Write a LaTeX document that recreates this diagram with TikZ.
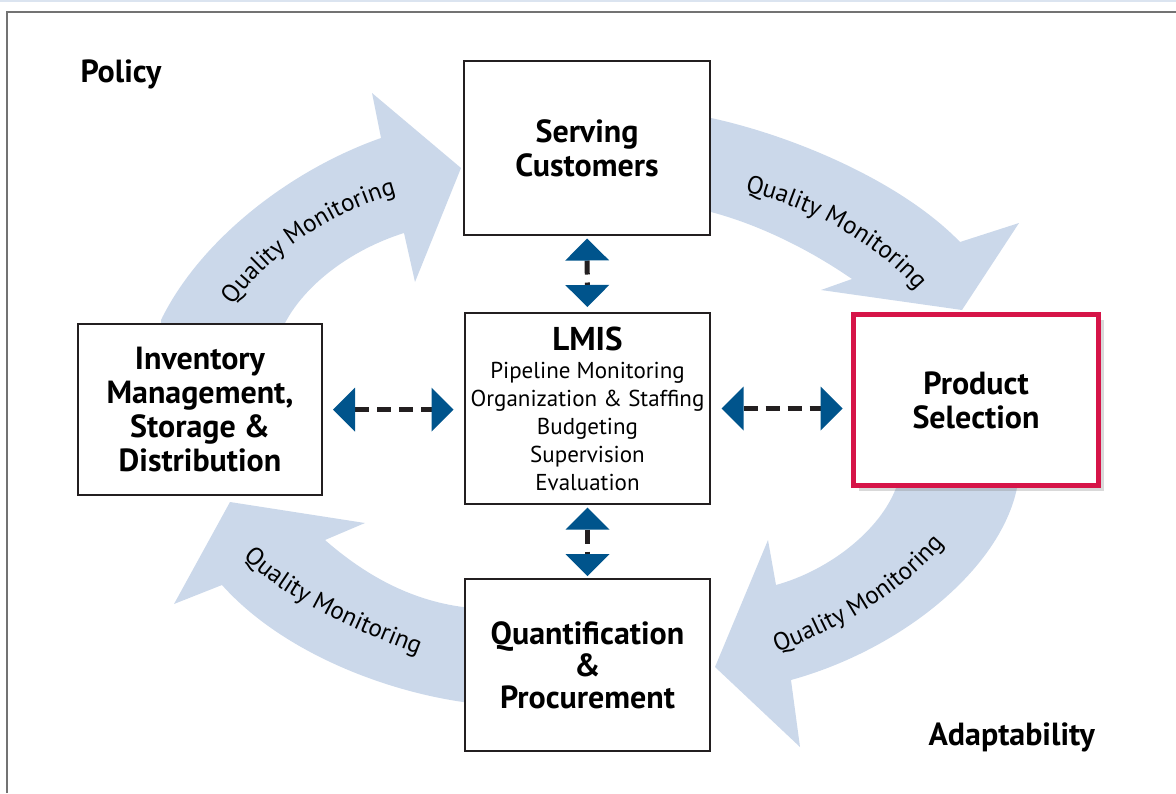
\documentclass[tikz,border=0pt]{standalone}
\usepackage{fontspec}
\setmainfont{PT Sans}
\usetikzlibrary{arrows.meta,shadows,decorations.text}
\definecolor{bandblue}{RGB}{203,216,234}
\definecolor{tipblue}{RGB}{0,84,140}
\definecolor{selred}{RGB}{214,20,72}
\definecolor{boxline}{RGB}{35,31,32}
\newcommand{\stagefont}{\bfseries\fontsize{32}{34}\selectfont}
\newcommand{\itemfont}{\fontsize{23}{28}\selectfont}
\newcommand{\qmfont}{\fontsize{25}{28}\selectfont}
\tikzstyle{stage} = [draw=boxline, line width=2pt, fill=white, align=center, font=\stagefont]
\tikzstyle{band} = [fill=bandblue, draw=none]
\tikzstyle{link} = [draw=boxline, line width=5pt, dash pattern=on 14pt off 8pt,
  {Triangle[length=22pt,width=44pt,line width=0pt,color=tipblue]}-{Triangle[length=22pt,width=44pt,line width=0pt,color=tipblue]}]
\tikzstyle{qm} = [decorate, decoration={text along path, text align=center, text={|\qmfont|Quality Monitoring}}]

\begin{document}
\begin{tikzpicture}[x=1pt,y=-1pt]
\useasboundingbox (0,0) rectangle (1176,793);
\fill[bandblue!70] (0,0) rectangle (1176,2);
\draw[black!55, line width=1.5pt] (7,793) -- (7,12) -- (1176,12);

\fill[band] (161,330) -- (161,320) .. controls (200,240) and (290,170) .. (381,138) -- (372,93) -- (461,168)
  -- (415,282) -- (404,233) .. controls (350,250) and (305,285) .. (285,323) -- (285,330) -- cycle;
\fill[band] (700,116) -- (711,118) .. controls (790,135) and (900,180) .. (960,242) -- (1019,223) -- (962,310)
  -- (821,290) -- (852,279) .. controls (810,250) and (760,225) .. (711,212) -- (700,210) -- cycle;
\fill[band] (1017,480) -- (1017,488) .. controls (1000,570) and (900,650) .. (791,680) -- (800,747) -- (715,667)
  -- (768,540) -- (776,585) .. controls (830,570) and (880,530) .. (896,488) -- (896,480) -- cycle;
\fill[band] (475,702) -- (463,702) .. controls (380,690) and (280,650) .. (222,585) -- (174,604) -- (230,502)
  -- (365,523) -- (325,540) .. controls (365,575) and (410,600) .. (463,607) -- (475,607) -- cycle;

\path[qm] (222,320) .. controls (264,257) and (332,207) .. (414,190);
\path[qm] (740,190) .. controls (800,205) and (870,235) .. (920,294);
\path[qm] (773,654) .. controls (830,632) and (895,602) .. (947,540);
\path[qm] (240,555) .. controls (280,595) and (340,625) .. (422,656);

\node[stage, minimum width=246pt, minimum height=174pt] (serve) at (587,148) {Serving\\Customers};
\node[stage, minimum width=245pt, minimum height=191pt, font=\itemfont] (lmis) at (587.5,408.5)
  {{\bfseries\fontsize{33}{30}\selectfont LMIS}\\Pipeline Monitoring\\Organization \& Staffing\\Budgeting\\Supervision\\Evaluation};
\node[stage, minimum width=244pt, minimum height=171pt] (inv) at (200,409.5)
  {Inventory\\Management,\\Storage \&\\Distribution};
\node[stage, minimum width=245pt, minimum height=172pt, font=\bfseries\fontsize{32}{32}\selectfont] (quant) at (587.5,665)
  {Quantification\\\&\\Procurement};
\node[stage, draw=selred, line width=5pt, minimum width=245pt, minimum height=171pt,
  drop shadow={shadow xshift=5pt, shadow yshift=-5pt, opacity=0.3}] (prod) at (976,400) {Product\\Selection};

\draw[link, shorten <=2.5pt, shorten >=5pt] (serve.south) -- (lmis.north);
\draw[link, shorten <=2.5pt, shorten >=2pt] (lmis.south) -- (quant.north);
\draw[link, shorten <=10pt, shorten >=10.5pt] (inv.east) -- (inv.east -| lmis.west);
\draw[link, shorten <=10.5pt, shorten >=8.5pt] (lmis.east) -- (lmis.east -| prod.west);

\node[anchor=base west, font=\stagefont] (policy) at (77,82) {Policy};
\node[anchor=base west, font=\stagefont] (adapt) at (925,745) {Adaptability};
\end{tikzpicture}
\end{document}
